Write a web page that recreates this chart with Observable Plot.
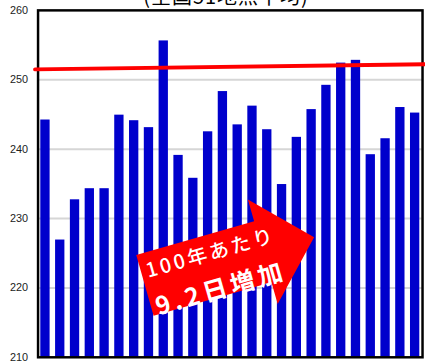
<!DOCTYPE html>
<html>
<head>
<meta charset="utf-8">
<script src="https://cdn.jsdelivr.net/npm/d3@7"></script>
<script src="https://cdn.jsdelivr.net/npm/@observablehq/plot@0.6"></script>
<style>
  html, body { margin: 0; padding: 0; background: #fff; overflow: hidden; width: 425px; height: 364px; }
  #wrap { position: relative; width: 425px; height: 364px; overflow: hidden; }
  #title { position: absolute; left: 0; top: -16px; width: 452px; text-align: center;
           font-family: "Noto Sans CJK JP", sans-serif; font-size: 20px; line-height: 24px; color: #000; letter-spacing: 1px; }
  svg { position: absolute; left: 0; top: 0; }
</style>
</head>
<body>
<div id="wrap"><div id="title">(全国51地点平均)</div></div>
<script>
// Bar values (days), one per period
const barIndex = [1,2,3,4,5,6,7,8,9,10,11,12,13,14,15,16,17,18,19,20,21,22,23,24,25,26];
const barValue = [244.2, 226.9, 232.7, 234.3, 234.3, 244.9, 244.1, 243.1, 255.6, 239.1,
                  235.8, 242.5, 248.3, 243.5, 246.2, 242.8, 234.9, 241.7, 245.7, 249.2,
                  252.4, 252.8, 239.2, 241.5, 246.0, 245.2];
// Trend line (red)
const trendX = [0.3, 26.7];
const trendY = [251.5, 252.25];
// Y tick labels
const yTicks = [210, 220, 230, 240, 250, 260];
const gridTicks = [220, 230, 240, 250];
// Annotation
const noteLine1 = "100年あたり";
const noteLine2 = "9.2日増加";
const noteAnchor = [7.76, 220.3];

const bars = barIndex.map((i, k) => ({i, v: barValue[k]}));
const trend = trendX.map((x, k) => ({x, y: trendY[k]}));

const chart = Plot.plot({
  width: 430,
  height: 372,
  marginLeft: 38,
  marginRight: 3,
  marginTop: 10,
  marginBottom: 11,
  style: {fontFamily: "'Liberation Sans', Arial, sans-serif", fontSize: "11px", color: "#222", background: "transparent"},
  x: {domain: [0.5, 26.5], axis: null},
  y: {domain: [210, 260], ticks: yTicks, tickSize: 0, tickPadding: 10, label: null},
  marks: [
    Plot.gridY(gridTicks, {stroke: "#d6d6d6", strokeWidth: 2, strokeOpacity: 1}),
    Plot.rect(bars, {x1: d => d.i - 0.315, x2: d => d.i + 0.315, y1: 210, y2: "v", fill: "#0000cc"}),
    Plot.frame({stroke: "#000", strokeWidth: 2.5}),
    Plot.line(trend, {x: "x", y: "y", stroke: "#ff0000", strokeWidth: 4})
  ]
});

document.getElementById("wrap").appendChild(chart);

// Arrow annotation positioned through the chart's scales
const sx = chart.scale("x"), sy = chart.scale("y");
const ax = sx.apply(noteAnchor[0]), ay = sy.apply(noteAnchor[1]);
const g = d3.select(chart).append("g")
  .attr("transform", `translate(${ax},${ay}) rotate(-15.9)`);
g.append("path")
  .attr("d", "M0,-32 L124,-32 L124,-55 L178,0 L124,55 L124,32 L0,32 Z")
  .attr("fill", "#ff0000");
g.append("text")
  .attr("x", 73).attr("y", -15)
  .attr("text-anchor", "middle").attr("dominant-baseline", "central")
  .attr("fill", "#fff")
  .attr("font-family", "'Noto Sans CJK JP', sans-serif")
  .attr("font-size", 20).attr("font-weight", 500)
  .attr("letter-spacing", 3)
  .text(noteLine1);
g.append("text")
  .attr("x", 73).attr("y", 22)
  .attr("text-anchor", "middle").attr("dominant-baseline", "central")
  .attr("fill", "#fff")
  .attr("font-family", "'Noto Sans CJK JP', sans-serif")
  .attr("font-size", 25).attr("font-weight", 700)
  .attr("letter-spacing", 4)
  .text(noteLine2);
</script>
</body>
</html>
